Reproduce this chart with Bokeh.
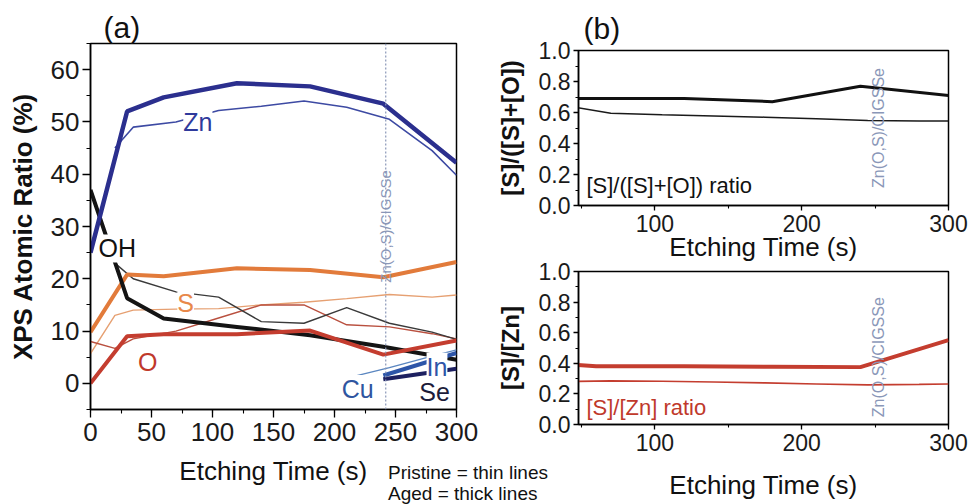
import math
from bokeh.plotting import figure
from bokeh.models import Range1d, Label, SingleIntervalTicker, Span, PrintfTickFormatter, Div
from bokeh.layouts import row, column
from bokeh.embed import file_html
from bokeh.resources import INLINE

NAN = float("nan")
FONT = "Liberation Sans"

# ---------------- panel (a) data ----------------
aged_t = [0, 30, 60, 120, 180, 240, 300]
zn_aged = [25, 52, 54.7, 57.4, 56.8, 53.5, 42.2]
oh_aged = [37, 16.3, 12.4, 10.8, 9.2, 7.0, 4.5]
s_aged = [9.8, 20.8, 20.5, 22, 21.7, 20.3, 23.2]
o_aged = [0, 9.0, 9.4, 9.4, 10.1, 5.5, 8.2]
in_aged = [NAN, NAN, NAN, NAN, NAN, 1.5, 5.8]
se_aged = [NAN, NAN, NAN, NAN, NAN, 0.8, 2.8]

pristine_t = [0, 20, 35, 70, 105, 140, 175, 210, 245, 280, 300]
zn_pristine = [NAN, 45, 49, 50, 52.2, 53, 54, 52.8, 50.5, 44.5, 39.8]
oh_pristine = [NAN, 23, 20, 17.5, 16.5, 11.8, 11.5, 14.5, 11.5, 9.8, 8.4]
s_pristine = [5.7, 13, 14, 14.2, 14.3, 15, 15.5, 16.2, 17, 16.5, 16.9]
o_pristine = [8.0, 6.7, 8.5, 10, 12.5, 15, 15, 11.2, 10.8, 9.5, 8.5]
cu_pristine = [NAN, NAN, NAN, NAN, NAN, NAN, NAN, 1.0, 3.0, 5.2, 6.4]

# ---------------- panel (b) data ----------------
ratio_t_aged = [30, 60, 120, 180, 240, 300]
s_so_aged = [0.69, 0.69, 0.69, 0.67, 0.77, 0.71]
s_zn_aged = [0.40, 0.38, 0.38, 0.378, 0.375, 0.552]
ratio_t_pristine = [35, 70, 105, 140, 175, 210, 245, 280, 300]
s_so_pristine = [0.65, 0.595, 0.585, 0.578, 0.57, 0.56, 0.548, 0.545, 0.545]
s_zn_pristine = [0.28, 0.285, 0.283, 0.278, 0.272, 0.265, 0.259, 0.262, 0.265]

interface_a = 242
interface_b = 252

# colours
ZN = "#2b2f8e"; ZN_T = "#3d4aa3"
OH = "#141414"; OH_T = "#3a3a3a"
S = "#e27b3b"; S_T = "#e6a072"
O = "#c43d2f"; O_T = "#b9503f"
CU_T = "#5a86c0"; IN = "#2d55a8"; SE = "#1d2060"
IF_C = "#8a97b8"


def style(p, tick_size, ylabel_size="26px"):
    p.xgrid.visible = False
    p.ygrid.visible = False
    p.outline_line_color = "black"
    p.outline_line_width = 1.5
    for ax in (p.xaxis, p.yaxis):
        ax.axis_line_width = 1.5
        ax.axis_line_color = "black"
        ax.major_tick_line_color = "black"
        ax.minor_tick_line_color = "black"
        ax.major_tick_line_width = 1.3
        ax.minor_tick_line_width = 1.1
        ax.major_tick_in = 0
        ax.minor_tick_in = 0
        ax.major_label_text_font = FONT
        ax.major_label_text_font_size = tick_size
        ax.major_label_text_color = "#1a1a1a"
        ax.axis_label_text_font = FONT
        ax.axis_label_text_color = "#111111"
    p.xaxis.axis_label_text_font_style = "normal"
    p.xaxis.axis_label_text_font_size = "26px"
    p.yaxis.axis_label_text_font_style = "bold"
    p.yaxis.axis_label_text_font_size = ylabel_size


def panel_title(p, text, offset, standoff):
    p.title.text = text
    p.title.align = "left"
    p.title.offset = offset
    p.title.standoff = standoff
    p.title.text_font = FONT
    p.title.text_font_size = "30px"
    p.title.text_font_style = "normal"
    p.title.text_color = "#111111"


def lab(p, x, y, text, color, size="25px", bg=True, align="center", angle=0):
    p.add_layout(Label(x=x, y=y, text=text, text_color=color, text_font=FONT,
                       text_font_size=size, text_align=align, text_baseline="middle",
                       angle=angle, angle_units="deg",
                       background_fill_color="white" if bg else None,
                       background_fill_alpha=1.0 if bg else 0.0))


# ================= panel (a) =================
pa = figure(frame_width=366, frame_height=366, min_border_left=90, min_border_right=104,
            min_border_top=43, min_border_bottom=95, output_backend="svg",
            toolbar_location=None, x_range=Range1d(0, 300), y_range=Range1d(-5, 65))
style(pa, "26px")
panel_title(pa, "(a)", 13, 0)
pa.xaxis.ticker = SingleIntervalTicker(interval=50, num_minor_ticks=2)
pa.yaxis.ticker = SingleIntervalTicker(interval=10, num_minor_ticks=2)
pa.xaxis.major_tick_out = 8
pa.xaxis.minor_tick_out = 4
pa.yaxis.major_tick_out = 8
pa.yaxis.minor_tick_out = 4
pa.xaxis.major_label_standoff = 5
pa.yaxis.major_label_standoff = 3
pa.xaxis.axis_label = "Etching Time (s)"
pa.yaxis.axis_label = "XPS Atomic Ratio (%)"
pa.xaxis.axis_label_standoff = 12
pa.yaxis.axis_label_standoff = 10

pa.add_layout(Span(location=interface_a, dimension="height", line_color=IF_C,
                   line_dash="2 2", line_width=1.2))

# pristine (thin)
pa.line(pristine_t, s_pristine, line_color=S_T, line_width=1.4)
pa.line(pristine_t, o_pristine, line_color=O_T, line_width=1.4)
pa.line(pristine_t, oh_pristine, line_color=OH_T, line_width=1.4)
pa.line(pristine_t, zn_pristine, line_color=ZN_T, line_width=1.6)
pa.line(pristine_t, cu_pristine, line_color=CU_T, line_width=1.4)
# aged (thick)
pa.line(aged_t, s_aged, line_color=S, line_width=4)
pa.line(aged_t, oh_aged, line_color=OH, line_width=4)
pa.line(aged_t, o_aged, line_color=O, line_width=4)
pa.line(aged_t, zn_aged, line_color=ZN, line_width=4.5)
pa.line(aged_t, in_aged, line_color=IN, line_width=4)
pa.line(aged_t, se_aged, line_color=SE, line_width=4)

lab(pa, 242, 30, "Zn(O,S)/CIGSSe", IF_C, size="15px", bg=False, angle=90)
lab(pa, 88, 50, "Zn", "#2f3a9c")
lab(pa, 22, 25.8, "OH", "#111111")
lab(pa, 78, 15.3, "S", "#e8884a")
lab(pa, 47, 4.0, "O", "#c0392b")
lab(pa, 219, -1.1, "Cu", "#2f55a0")
lab(pa, 284, 3.2, "In", "#2f55a8")
lab(pa, 282, -1.7, "Se", "#1c1c3a")

# ================= panel (b) =================
def make_b(height, top, bottom, ylabel, xstand):
    p = figure(frame_width=370, frame_height=height, min_border_left=98, min_border_right=24,
               min_border_top=top, min_border_bottom=bottom, output_backend="svg",
               toolbar_location=None, x_range=Range1d(48, 300), y_range=Range1d(0, 1.0))
    style(p, "23px", ylabel_size="24px")
    p.border_fill_color = None
    p.background_fill_color = None
    p.xaxis.ticker = SingleIntervalTicker(interval=100, num_minor_ticks=2)
    p.yaxis.ticker = SingleIntervalTicker(interval=0.2, num_minor_ticks=2)
    p.yaxis.formatter = PrintfTickFormatter(format="%.1f")
    for ax in (p.xaxis, p.yaxis):
        ax.major_tick_out = 5
        ax.minor_tick_out = 3
    p.xaxis.major_label_standoff = 4
    p.yaxis.major_label_standoff = 3
    p.xaxis.axis_label = "Etching Time (s)"
    p.yaxis.axis_label = ylabel
    p.xaxis.axis_label_standoff = xstand
    p.yaxis.axis_label_standoff = 12
    return p

pb1 = make_b(155, 50, 65, "[S]/([S]+[O])", -3)
panel_title(pb1, "(b)", 5, 12)
pb1.line(ratio_t_pristine, s_so_pristine, line_color="#1a1a1a", line_width=1.5)
pb1.line(ratio_t_aged, s_so_aged, line_color="#111111", line_width=3)
lab(pb1, 53.4, 0.13, "[S]/([S]+[O]) ratio", "#111111", size="22px", bg=False, align="left")
lab(pb1, interface_b, 0.5, "Zn(O,S)/CIGSSe", IF_C, size="16px", bg=False, angle=90)

pb2 = make_b(153, 15, 80, "[S]/[Zn]", 16)
pb2.line(ratio_t_pristine, s_zn_pristine, line_color=O, line_width=1.6)
pb2.line(ratio_t_aged, s_zn_aged, line_color=O, line_width=4)
lab(pb2, 53.4, 0.11, "[S]/[Zn] ratio", "#c0392b", size="22px", bg=False, align="left")
lab(pb2, interface_b, 0.44, "Zn(O,S)/CIGSSe", IF_C, size="16px", bg=False, angle=90)
pb2.margin = (-14, 0, 0, 0)

right = column(pb1, pb2, margin=(0, 0, 0, -80))

note = Div(text="Pristine = thin lines<br>Aged = thick lines", width=200, height=42,
           margin=(-42, 0, 0, 388),
           styles={"font-family": FONT, "font-size": "19px", "line-height": "21px",
                   "color": "#111111"})

layout = column(row(pa, right), note)

open("out.html", "w").write(file_html(layout, INLINE))
